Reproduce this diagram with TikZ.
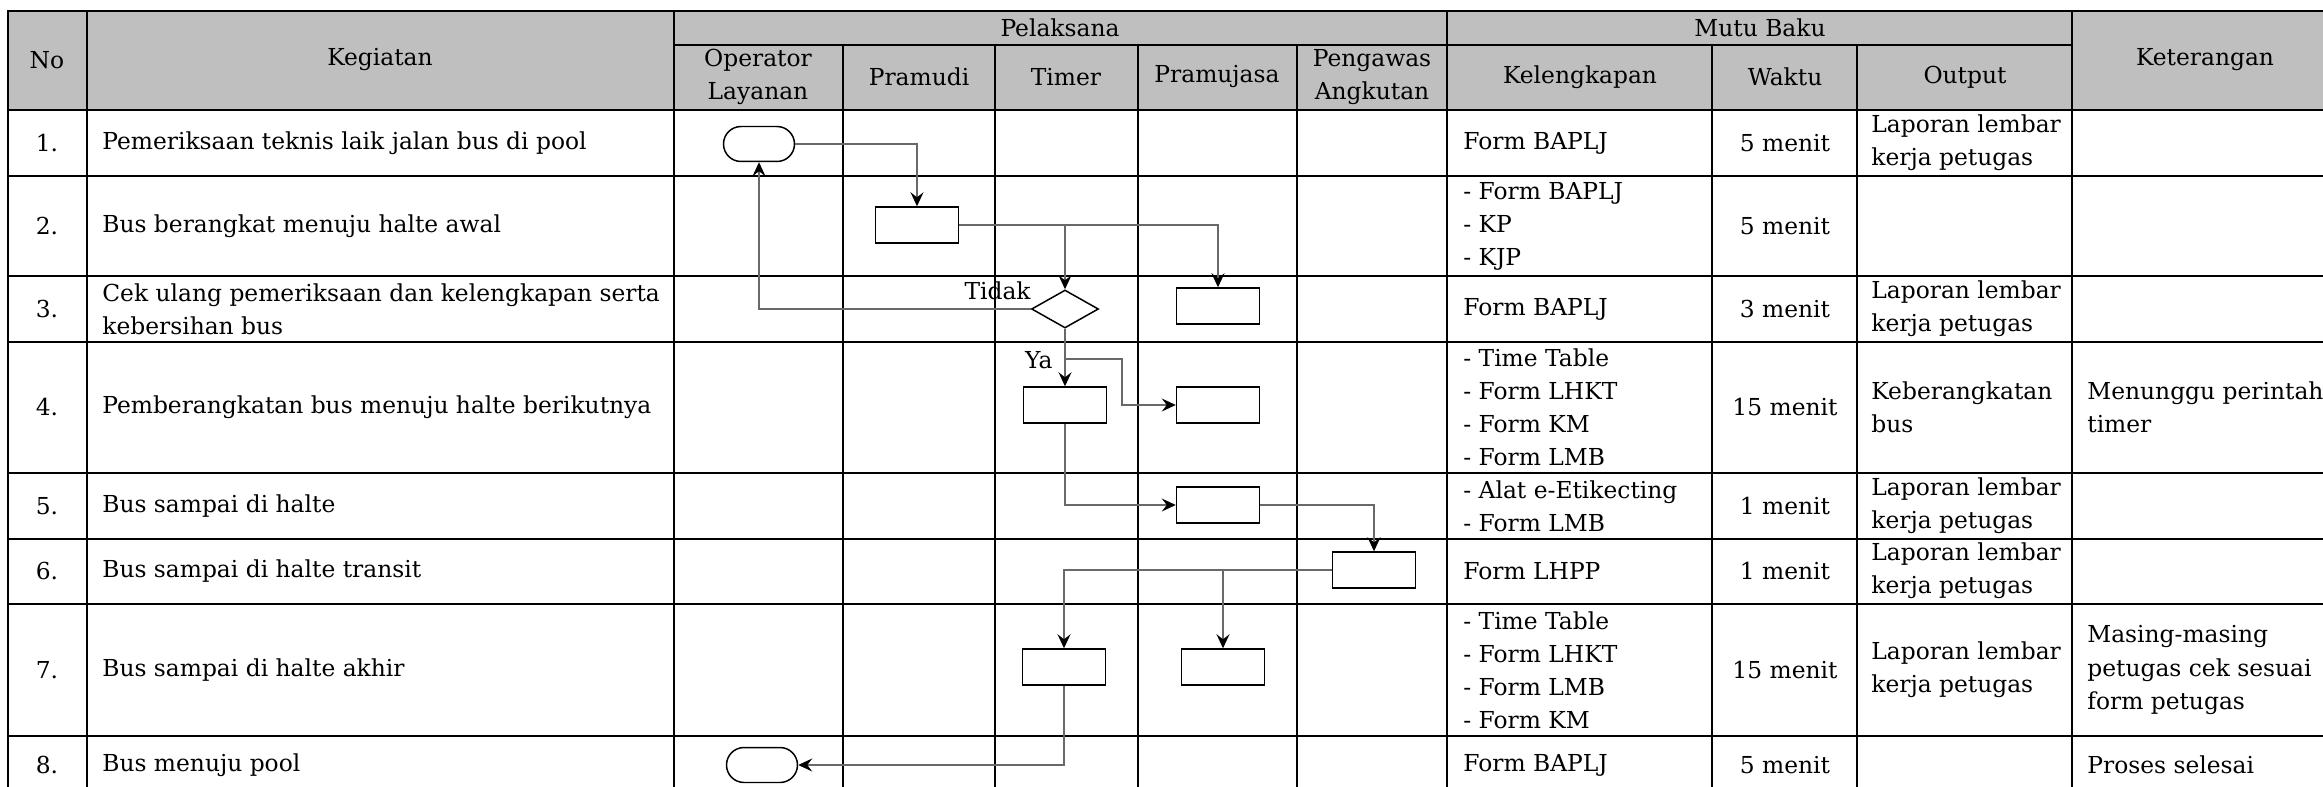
\documentclass[tikz,border=0pt]{standalone}
\usepackage{fontspec}
\setmainfont{DejaVu Serif}
\usepackage{xcolor}
\usepackage{tikz}
\usetikzlibrary{arrows.meta, shapes.geometric}
\definecolor{headgray}{RGB}{191,191,191}
\definecolor{linkgray}{RGB}{105,105,105}
\newcommand{\cellfont}{\fontsize{13.3}{18.8}\selectfont}

\begin{document}
\begin{tikzpicture}[x=0.02cm, y=-0.02cm, >={Stealth[length=2.8mm, width=2.6mm, inset=1mm, color=black]},
    every node/.style={align=center, font=\cellfont, inner sep=0pt},
    tabline/.style={line width=1pt},
    proc/.style={draw, line width=0.85pt, rectangle, minimum width=1.66cm, minimum height=0.72cm},
    term/.style={draw, line width=0.85pt, rectangle, rounded corners=3.5mm, minimum width=1.42cm, minimum height=0.70cm},
    decision/.style={draw, line width=0.85pt, diamond, aspect=1.76, minimum width=1.34cm, minimum height=0.76cm},
    flow/.style={->, draw=linkgray, line width=0.6pt}]
        \useasboundingbox (0,0) rectangle (2323,787);
        \clip (0,0) rectangle (2323,787);

        \fill[headgray] (8,11) rectangle (2338,110);
        \draw[tabline] (8,11) rectangle (2338,796);
        \draw[tabline] (674,45) -- (2072,45);
        \draw[tabline] (8,110) -- (2338,110) (8,176) -- (2338,176) (8,276) -- (2338,276) (8,342) -- (2338,342) (8,473) -- (2338,473) (8,539) -- (2338,539) (8,604) -- (2338,604) (8,736) -- (2338,736);
        \draw[tabline] (87,11) -- (87,796) (674,11) -- (674,796) (1447,11) -- (1447,796) (2072,11) -- (2072,796);
        \draw[tabline] (843,45) -- (843,796) (995,45) -- (995,796) (1138,45) -- (1138,796) (1297,45) -- (1297,796) (1712,45) -- (1712,796) (1857,45) -- (1857,796);

        \node (hno) at (47,60) {No};
        \node (hkeg) at (380,60) {Kegiatan};
        \node (hpel) at (1060,28) {Pelaksana};
        \node (hmutu) at (1760,28) {Mutu Baku};
        \node (hket) at (2205,60) {Keterangan};
        \node (hop) at (758,77) {Operator\\Layanan};
        \node (hpram) at (919,77) {Pramudi};
        \node (htim) at (1066,77) {Timer};
        \node (hjasa) at (1217,77) {Pramujasa};
        \node (hawas) at (1372,77) {Pengawas\\Angkutan};
        \node (hleng) at (1580,77) {Kelengkapan};
        \node (hwak) at (1785,77) {Waktu};
        \node (hout) at (1965,77) {Output};

        \node (no1) at (47,143) {1.};
        \node (no2) at (47,226) {2.};
        \node (no3) at (47,309) {3.};
        \node (no4) at (47,407) {4.};
        \node (no5) at (47,506) {5.};
        \node (no6) at (47,571) {6.};
        \node (no7) at (47,670) {7.};
        \node (no8) at (47,765) {8.};

        \node (keg1) [anchor=west, align=left] at (102,143) {Pemeriksaan teknis laik jalan bus di pool};
        \node (keg2) [anchor=west, align=left] at (102,226) {Bus berangkat menuju halte awal};
        \node (keg3) [anchor=west, align=left] at (102,309) {Cek ulang pemeriksaan dan kelengkapan serta\\kebersihan bus};
        \node (keg4) [anchor=west, align=left] at (102,407) {Pemberangkatan bus menuju halte berikutnya};
        \node (keg5) [anchor=west, align=left] at (102,506) {Bus sampai di halte};
        \node (keg6) [anchor=west, align=left] at (102,571) {Bus sampai di halte transit};
        \node (keg7) [anchor=west, align=left] at (102,670) {Bus sampai di halte akhir};
        \node (keg8) [anchor=west, align=left] at (102,765) {Bus menuju pool};

        \node (leng1) [anchor=west, align=left] at (1463,143) {Form BAPLJ};
        \node (leng2) [anchor=west, align=left] at (1463,226) {- Form BAPLJ\\- KP\\- KJP};
        \node (leng3) [anchor=west, align=left] at (1463,309) {Form BAPLJ};
        \node (leng4) [anchor=west, align=left] at (1463,407) {- Time Table\\- Form LHKT\\- Form KM\\- Form LMB};
        \node (leng5) [anchor=west, align=left] at (1463,506) {- Alat e-Etikecting\\- Form LMB};
        \node (leng6) [anchor=west, align=left] at (1463,571) {Form LHPP};
        \node (leng7) [anchor=west, align=left] at (1463,670) {- Time Table\\- Form LHKT\\- Form LMB\\- Form KM};
        \node (leng8) [anchor=west, align=left] at (1463,765) {Form BAPLJ};

        \node (wak1) at (1785,143) {5 menit};
        \node (wak2) at (1785,226) {5 menit};
        \node (wak3) at (1785,309) {3 menit};
        \node (wak4) at (1785,407) {15 menit};
        \node (wak5) at (1785,506) {1 menit};
        \node (wak6) at (1785,571) {1 menit};
        \node (wak7) at (1785,670) {15 menit};
        \node (wak8) at (1785,765) {5 menit};

        \node (out1) [anchor=west, align=left] at (1871,143) {Laporan lembar\\kerja petugas};
        \node (out3) [anchor=west, align=left] at (1871,309) {Laporan lembar\\kerja petugas};
        \node (out4) [anchor=west, align=left] at (1871,407) {Keberangkatan\\bus};
        \node (out5) [anchor=west, align=left] at (1871,506) {Laporan lembar\\kerja petugas};
        \node (out6) [anchor=west, align=left] at (1871,571) {Laporan lembar\\kerja petugas};
        \node (out7) [anchor=west, align=left] at (1871,670) {Laporan lembar\\kerja petugas};

        \node (ket4) [anchor=west, align=left] at (2087,407) {Menunggu perintah\\timer};
        \node (ket7) [anchor=west, align=left] at (2087,670) {Masing-masing\\petugas cek sesuai\\form petugas};
        \node (ket8) [anchor=west, align=left] at (2087,765) {Proses selesai};

        \node (start) [term] at (759,144) {};
        \node (pram2) [proc] at (917,225) {};
        \node (cek) [decision] at (1065,309) {};
        \node (jasa3) [proc] at (1218,306) {};
        \node (timer4) [proc] at (1065,405) {};
        \node (jasa4) [proc] at (1218,405) {};
        \node (jasa5) [proc] at (1218,505) {};
        \node (awas6) [proc] at (1374,570) {};
        \node (timer7) [proc] at (1064,667) {};
        \node (jasa7) [proc] at (1223,667) {};
        \node (finish) [term] at (762,765) {};
        \node (tidak) [anchor=base east] at (1031,299) {Tidak};
        \node (ya) [anchor=base east] at (1053,368) {Ya};
        \coordinate (yabend) at (1122,359);

        \draw[flow] (start) -| (pram2);
        \draw[flow] (pram2) -| (jasa3);
        \draw[flow] (pram2.east -| cek) -- (cek);
        \draw[flow] (cek) -| (start);
        \draw[flow] (cek) -- (timer4);
        \draw[flow] (cek.south |- yabend) -- (yabend) |- (jasa4);
        \draw[flow] (timer4) |- (jasa5);
        \draw[flow] (jasa5) -| (awas6);
        \draw[flow] (awas6) -| (timer7);
        \draw[flow] (awas6.west -| jasa7) -- (jasa7);
        \draw[flow] (timer7) |- (finish);
    \end{tikzpicture}
\end{document}
